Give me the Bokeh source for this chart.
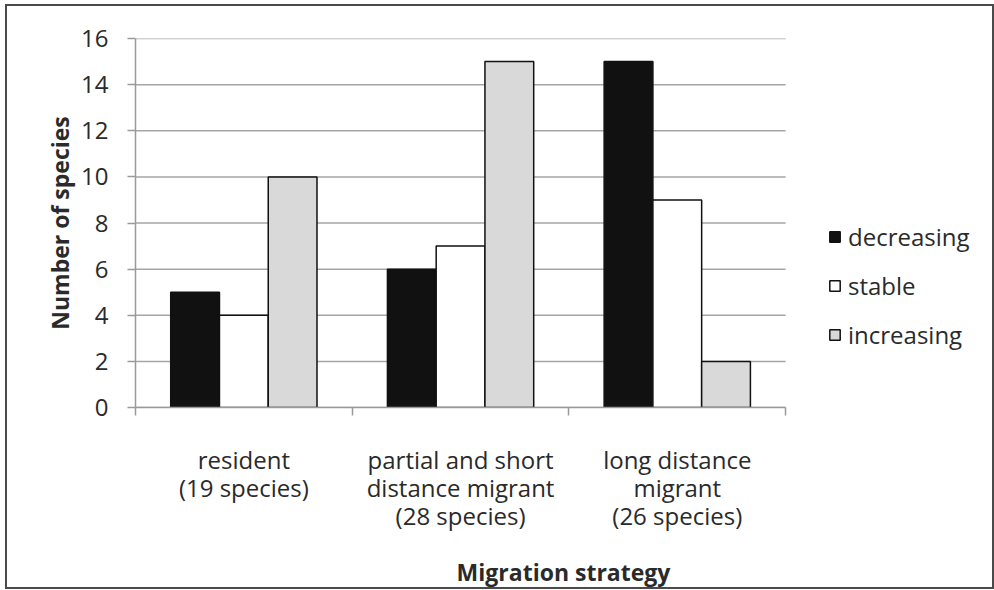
from bokeh.plotting import figure
from bokeh.models import Range1d, FixedTicker, Legend, LegendItem
from bokeh.embed import file_html
from bokeh.resources import INLINE

categories = ["resident\n(19 species)",
              "partial and short\ndistance migrant\n(28 species)",
              "long distance\nmigrant\n(26 species)"]
series = ["decreasing", "stable", "increasing"]
decreasing = [5, 6, 15]
stable = [4, 7, 9]
increasing = [10, 15, 2]
y_ticks = [0, 2, 4, 6, 8, 10, 12, 14, 16]

FONT = "Open Sans"
TXT = "#2a2a2a"
n = len(categories)
# extra room on the right of the frame holds the legend
p = figure(width=989, height=585, output_backend="svg", toolbar_location=None,
           x_range=Range1d(0, n + 0.95), y_range=Range1d(0, 16),
           min_border_left=128, min_border_right=5, min_border_top=32, min_border_bottom=180)
p.margin = (4, 0, 0, 5)
p.styles = {"border": "2px solid #4a4a4a"}

# horizontal gridlines limited to the category area
p.segment(x0=[0] * len(y_ticks), x1=[n] * len(y_ticks), y0=y_ticks, y1=y_ticks,
          line_color="#a6a6a6", line_width=1.5)

centers = [i + 0.5 for i in range(n)]
offsets = [-0.225, 0.0, 0.225]
fills = ["#111111", "#ffffff", "#d9d9d9"]
vals = [decreasing, stable, increasing]
items = []
for name, off, fc, v in zip(series, offsets, fills, vals):
    r = p.vbar(x=[c + off for c in centers], top=v, bottom=0, width=0.225,
               fill_color=fc, line_color="#111111", line_width=1.5)
    items.append(LegendItem(label=name, renderers=[r]))

p.outline_line_color = None
p.background_fill_color = "white"
p.xgrid.grid_line_color = None
p.ygrid.grid_line_color = None

xa = p.xaxis[0]
xa.bounds = (0, n)
xa.ticker = FixedTicker(ticks=centers, minor_ticks=list(range(n + 1)))
xa.major_label_overrides = {c: lab for c, lab in zip(centers, categories)}
xa.major_tick_line_color = None
xa.major_tick_out = 0
xa.minor_tick_out = 8
xa.minor_tick_in = 0
xa.minor_tick_line_color = "#9a9a9a"
xa.minor_tick_line_width = 1.5
xa.axis_line_color = "#9a9a9a"
xa.axis_line_width = 1.5
xa.major_label_standoff = 27
xa.major_label_text_font = FONT
xa.major_label_text_font_size = "24px"
xa.major_label_text_line_height = 0.86
xa.major_label_text_color = TXT
xa.axis_label = "Migration strategy"
xa.axis_label_text_font = FONT
xa.axis_label_text_font_size = "23px"
xa.axis_label_text_font_style = "bold"
xa.axis_label_text_color = TXT
xa.axis_label_standoff = 21

ya = p.yaxis[0]
ya.ticker = FixedTicker(ticks=y_ticks)
ya.minor_tick_line_color = None
ya.major_tick_out = 8
ya.major_tick_in = 0
ya.major_tick_line_color = "#9a9a9a"
ya.major_tick_line_width = 1.5
ya.axis_line_color = "#9a9a9a"
ya.axis_line_width = 1.5
ya.major_label_standoff = 19
ya.major_label_text_font = FONT
ya.major_label_text_font_size = "24px"
ya.major_label_text_color = TXT
ya.axis_label = "Number of species"
ya.axis_label_text_font = FONT
ya.axis_label_text_font_size = "23px"
ya.axis_label_text_font_style = "bold"
ya.axis_label_text_color = TXT
ya.axis_label_standoff = 2

legend = Legend(items=items, location=(693, 56), padding=0, margin=0,
                border_line_color=None, background_fill_alpha=0,
                glyph_width=13, glyph_height=13, label_standoff=7, spacing=16,
                label_text_font=FONT, label_text_font_size="24px",
                label_text_color=TXT)
p.add_layout(legend, "center")

open("out.html", "w").write(file_html(p, INLINE))
